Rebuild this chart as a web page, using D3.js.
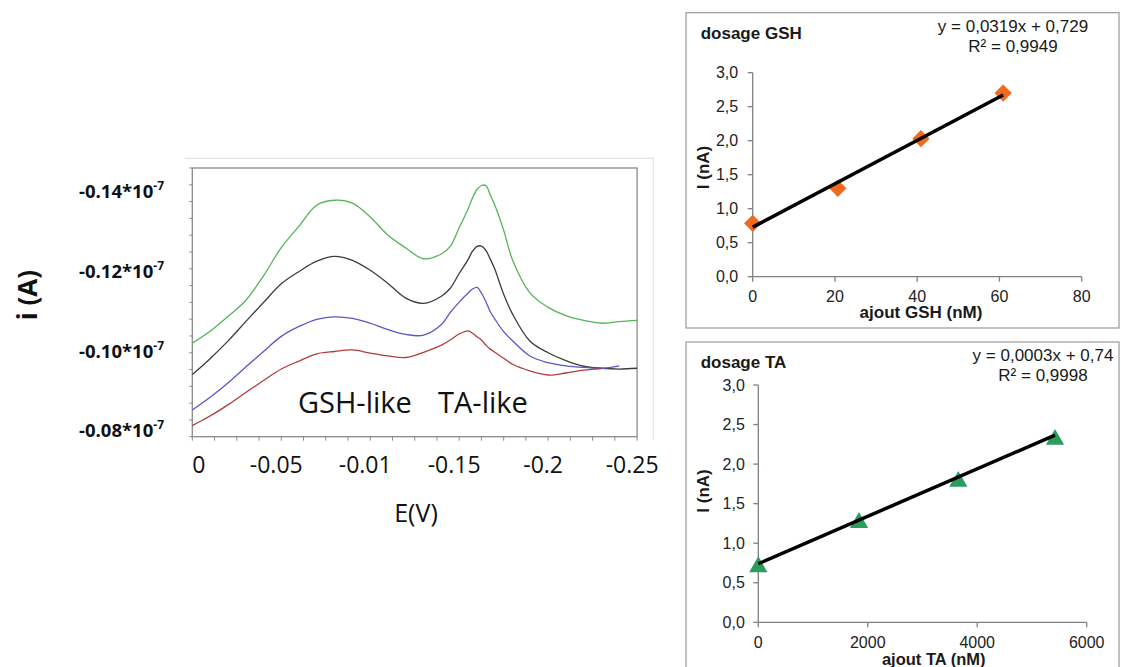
<!DOCTYPE html>
<html><head><meta charset="utf-8">
<script src="https://cdn.jsdelivr.net/npm/d3@7"></script>
<style>body{margin:0;background:#fff;} svg{display:block;}</style>
</head><body><svg id="c" width="1121" height="667"></svg>
<script>
// ---------- DPV voltammogram data (current in units of 10^-7 A) ----------
const potentials = [0, -0.01, -0.02, -0.03, -0.04, -0.05, -0.06, -0.07, -0.08, -0.09, -0.10, -0.11, -0.12, -0.13, -0.14, -0.145, -0.15, -0.155, -0.1575, -0.16, -0.1625, -0.165, -0.1675, -0.17, -0.175, -0.18, -0.19, -0.20, -0.21, -0.22, -0.23, -0.24, -0.25];
const currentGreen = [-0.1020, -0.1050, -0.1087, -0.1127, -0.1189, -0.1260, -0.1314, -0.1367, -0.1379, -0.1372, -0.1337, -0.1291, -0.1259, -0.1232, -0.1244, -0.1263, -0.1310, -0.1357, -0.1385, -0.1406, -0.1416, -0.1416, -0.1392, -0.1367, -0.1304, -0.1229, -0.1145, -0.1110, -0.1089, -0.1077, -0.1070, -0.1074, -0.1077];
const currentBlack = [-0.0941, -0.0981, -0.1025, -0.1074, -0.1122, -0.1169, -0.1200, -0.1226, -0.1238, -0.1228, -0.1203, -0.1170, -0.1133, -0.1120, -0.1138, -0.1158, -0.1195, -0.1230, -0.1251, -0.1263, -0.1264, -0.1253, -0.1231, -0.1206, -0.1143, -0.1093, -0.1024, -0.0996, -0.0976, -0.0962, -0.0957, -0.0955, -0.0957];
const currentBlue = [-0.0852, -0.0884, -0.0920, -0.0960, -0.0999, -0.1037, -0.1062, -0.1080, -0.1086, -0.1082, -0.1070, -0.1054, -0.1042, -0.1040, -0.1067, -0.1097, -0.1123, -0.1146, -0.1156, -0.1160, -0.1146, -0.1124, -0.1099, -0.1081, -0.1049, -0.1026, -0.0987, -0.0971, -0.0963, -0.0959, -0.0957, -0.0963, null];
const currentRed = [-0.0813, -0.0837, -0.0865, -0.0896, -0.0926, -0.0955, -0.0975, -0.0993, -0.0999, -0.1003, -0.0995, -0.0988, -0.0984, -0.0997, -0.1015, -0.1028, -0.1043, -0.1051, -0.1045, -0.1036, -0.1028, -0.1015, -0.1005, -0.0997, -0.0982, -0.0967, -0.0950, -0.0940, -0.0945, -0.0952, -0.0956, null, null];
const seriesNames = ["green", "black", "blue", "red"];

const xTickValues = [0, -0.05, -0.1, -0.15, -0.2, -0.25];
const xTickLabels = ["0", "-0.05", "-0.01", "-0.15", "-0.2", "-0.25"];
const yTickValues = [-0.08, -0.10, -0.12, -0.14];
const yTickLabels = ["-0.08", "-0.10", "-0.12", "-0.14"];
const annotationTexts = ["GSH-like", "TA-like"];
const annotationE = [-0.0594, -0.1381];
const annotationI = [-0.0844, -0.0844];

// ---------- calibration data ----------
const gshAdded = [0, 20.7, 40.9, 60.9];
const gshCurrent = [0.785, 1.30, 2.03, 2.70];
const gshFit = [0.0319, 0.729];
const taAdded = [0, 1840, 3654, 5421];
const taCurrent = [0.70, 1.26, 1.78, 2.31];
const taFit = [0.0003, 0.74];
const calibYTicks = [0, 0.5, 1.0, 1.5, 2.0, 2.5, 3.0];
const gshXTicks = [0, 20, 40, 60, 80];
const taXTicks = [0, 2000, 4000, 6000];

// ---------- drawing ----------
const svg = d3.select("#c");
svg.append("rect").attr("width", 1121).attr("height", 667).attr("fill", "#fff");

const colors = {green: "#55b359", black: "#3c3c3c", blue: "#5858c8", red: "#b23c3c"};
const FS = "'Open Sans', 'Noto Sans', sans-serif";
const ARIAL = "'Liberation Sans', Arial, sans-serif";

// Left chart
const L = {left: 192.3, right: 637.1, top: 168, bottom: 436.7};
const x = d3.scaleLinear().domain([0, -0.25]).range([L.left, L.right]);
const y = d3.scaleLinear().domain([-0.0785, -0.146]).range([L.bottom, L.top]);

svg.append("path").attr("d", `M185,158.3H653.3V440`).attr("fill", "none").attr("stroke", "#e4e4e4").attr("stroke-width", 1.2);

const gL = svg.append("g");
const xMinor = d3.range(0, 21).map(i => -i * 0.0125);
gL.selectAll("line.xt").data(xMinor).join("line")
  .attr("x1", d => x(d)).attr("x2", d => x(d))
  .attr("y1", L.bottom).attr("y2", L.bottom + 4)
  .attr("stroke", "#8a8a8a").attr("stroke-width", 1);
const yTickScale = d3.scaleLinear().domain([0, 16]).range([L.bottom, L.top]);
gL.selectAll("line.yt").data(d3.range(17)).join("line")
  .attr("x1", L.left - 3).attr("x2", L.left)
  .attr("y1", d => yTickScale(d)).attr("y2", d => yTickScale(d))
  .attr("stroke", "#8a8a8a").attr("stroke-width", 1);
gL.append("rect").attr("x", L.left).attr("y", L.top)
  .attr("width", L.right - L.left).attr("height", L.bottom - L.top)
  .attr("fill", "none").attr("stroke", "#8a8a8a").attr("stroke-width", 1.3);

const seriesData = [currentGreen, currentBlack, currentBlue, currentRed];
const line = d3.line().defined(d => d[1] != null)
  .x(d => x(d[0])).y(d => y(d[1])).curve(d3.curveCatmullRom.alpha(0.5));
seriesData.forEach((vals, k) => {
  const pts = potentials.map((e, i) => [e, vals[i]]);
  gL.append("path").attr("d", line(pts)).attr("fill", "none")
    .attr("stroke", colors[seriesNames[k]]).attr("stroke-width", 1.3)
    .attr("stroke-linejoin", "round");
});

gL.selectAll("text.xl").data(xTickValues).join("text")
  .attr("x", d => x(d)).attr("y", 473)
  .attr("dx", (d, i) => i === 0 ? 0 : -5)
  .attr("text-anchor", (d, i) => i === 0 ? "start" : "middle")
  .attr("font-family", FS).attr("font-size", 23).attr("fill", "#111")
  .text((d, i) => xTickLabels[i]);

yTickValues.forEach((v, i) => {
  const t = gL.append("text").attr("x", 164).attr("y", y(v) + 6.5)
    .attr("text-anchor", "end").attr("font-family", FS).attr("font-weight", "bold")
    .attr("font-size", 18.5).attr("fill", "#111");
  t.append("tspan").text(yTickLabels[i] + "*10");
  t.append("tspan").attr("dy", -8).attr("font-size", 12).text("-7");
});

gL.append("text").attr("x", 416).attr("y", 522).attr("text-anchor", "middle")
  .attr("font-family", FS).attr("font-size", 25).attr("fill", "#111").text("E(V)");
gL.append("text").attr("transform", "translate(37,295) rotate(-90)").attr("text-anchor", "middle")
  .attr("font-family", FS).attr("font-weight", "bold").attr("font-size", 26).attr("fill", "#111").text("i (A)");

annotationTexts.forEach((t, i) => {
  gL.append("text").attr("x", x(annotationE[i])).attr("y", y(annotationI[i]))
    .attr("font-family", FS).attr("font-size", 29).attr("fill", "#111").text(t);
});

// ---------- calibration charts ----------
const fmt = v => d3.format(".1f")(v).replace(".", ",");
function calib(cfg) {
  const g = svg.append("g");
  g.append("rect").attr("x", cfg.frame[0]).attr("y", cfg.frame[1])
    .attr("width", cfg.frame[2]).attr("height", cfg.frame[3])
    .attr("fill", "#fff").attr("stroke", "#9a9a9a").attr("stroke-width", 1.2);
  const sx = d3.scaleLinear().domain(cfg.xDomain).range([cfg.plot[0], cfg.plot[1]]);
  const sy = d3.scaleLinear().domain([0, 3]).range([cfg.plot[3], cfg.plot[2]]);
  const axisColor = "#808080";
  g.append("line").attr("x1", sx(cfg.xDomain[0])).attr("x2", sx(cfg.xDomain[0]))
    .attr("y1", sy(0)).attr("y2", sy(3)).attr("stroke", axisColor).attr("stroke-width", 1.3);
  g.append("line").attr("x1", sx(cfg.xDomain[0])).attr("x2", sx(cfg.xDomain[1]))
    .attr("y1", sy(0)).attr("y2", sy(0)).attr("stroke", axisColor).attr("stroke-width", 1.3);
  g.selectAll("line.yt").data(calibYTicks).join("line")
    .attr("x1", sx(0) - 5).attr("x2", sx(0)).attr("y1", d => sy(d)).attr("y2", d => sy(d))
    .attr("stroke", axisColor).attr("stroke-width", 1.3);
  g.selectAll("line.xt").data(cfg.xTicks).join("line")
    .attr("x1", d => sx(d)).attr("x2", d => sx(d)).attr("y1", sy(0)).attr("y2", sy(0) + 5)
    .attr("stroke", axisColor).attr("stroke-width", 1.3);
  g.selectAll("text.yl").data(calibYTicks).join("text")
    .attr("x", sx(0) - cfg.yLabelGap).attr("y", d => sy(d)).attr("dy", "0.35em")
    .attr("text-anchor", "end").attr("font-family", ARIAL).attr("font-size", 16).attr("fill", "#222")
    .text(fmt);
  g.selectAll("text.xl").data(cfg.xTicks).join("text")
    .attr("x", d => sx(d)).attr("y", cfg.xLabelY).attr("text-anchor", "middle")
    .attr("font-family", ARIAL).attr("font-size", 16).attr("fill", "#222").text(d => d);
  const pts = cfg.xs.map((v, i) => [v, cfg.ys[i]]);
  g.selectAll("path.m").data(pts).join("path")
    .attr("transform", d => `translate(${sx(d[0])},${sy(d[1])})` + (cfg.shape === "diamond" ? " rotate(45)" : ""))
    .attr("d", d3.symbol().type(cfg.shape === "diamond" ? d3.symbolSquare : d3.symbolTriangle).size(cfg.size)())
    .attr("fill", cfg.color);
  const xmin = d3.min(cfg.xs), xmax = d3.max(cfg.xs);
  const fit = v => cfg.fit[0] * v + cfg.fit[1];
  g.append("line").attr("x1", sx(xmin)).attr("y1", sy(fit(xmin)))
    .attr("x2", sx(xmax)).attr("y2", sy(fit(xmax)))
    .attr("stroke", "#000").attr("stroke-width", 3.5);
  const fx = cfg.frame[0], fy = cfg.frame[1];
  g.append("text").attr("x", fx + 14.7).attr("y", fy + 26.3)
    .attr("font-family", ARIAL).attr("font-weight", "bold").attr("font-size", 17).attr("fill", "#1a1a1a").text(cfg.title);
  g.append("text").attr("x", cfg.eqX).attr("y", fy + 19.3).attr("text-anchor", "middle")
    .attr("font-family", ARIAL).attr("font-size", 17).attr("fill", "#1a1a1a").text(cfg.eq);
  g.append("text").attr("x", cfg.eqX).attr("y", fy + 38.8).attr("text-anchor", "middle")
    .attr("font-family", ARIAL).attr("font-size", 17).attr("fill", "#1a1a1a").text(cfg.r2);
  g.append("text").attr("x", cfg.xTitleX).attr("y", cfg.xTitleY).attr("text-anchor", "middle")
    .attr("font-family", ARIAL).attr("font-weight", "bold").attr("font-size", cfg.xTitleSize).attr("fill", "#1a1a1a").text(cfg.xTitle);
  g.append("text").attr("transform", `translate(708.5,${cfg.yTitleY}) rotate(-90)`).attr("text-anchor", "middle")
    .attr("font-family", ARIAL).attr("font-weight", "bold").attr("font-size", 17).attr("fill", "#1a1a1a").text("I (nA)");
}

calib({
  frame: [686, 12.7, 433, 315.3], plot: [752.7, 1081.7, 72.7, 276.7],
  xDomain: [0, 80], xTicks: gshXTicks, xs: gshAdded, ys: gshCurrent, fit: gshFit,
  shape: "diamond", size: 150, color: "#f26a1e",
  yLabelGap: 14.5, xLabelY: 302,
  title: "dosage GSH", eq: "y = 0,0319x + 0,729", r2: "R² = 0,9949", eqX: 1013,
  xTitle: "ajout GSH (nM)", xTitleX: 921, xTitleY: 318, xTitleSize: 17, yTitleY: 167.5
});
calib({
  frame: [686, 342, 433, 340], plot: [758.3, 1086.7, 385, 622.3],
  xDomain: [0, 6000], xTicks: taXTicks, xs: taAdded, ys: taCurrent, fit: taFit,
  shape: "triangle", size: 145, color: "#2a9d5c",
  yLabelGap: 13.5, xLabelY: 647.5,
  title: "dosage TA", eq: "y = 0,0003x + 0,74", r2: "R² = 0,9998", eqX: 1043,
  xTitle: "ajout TA (nM)", xTitleX: 933.7, xTitleY: 665, xTitleSize: 16.5, yTitleY: 491
});
</script></body></html>
